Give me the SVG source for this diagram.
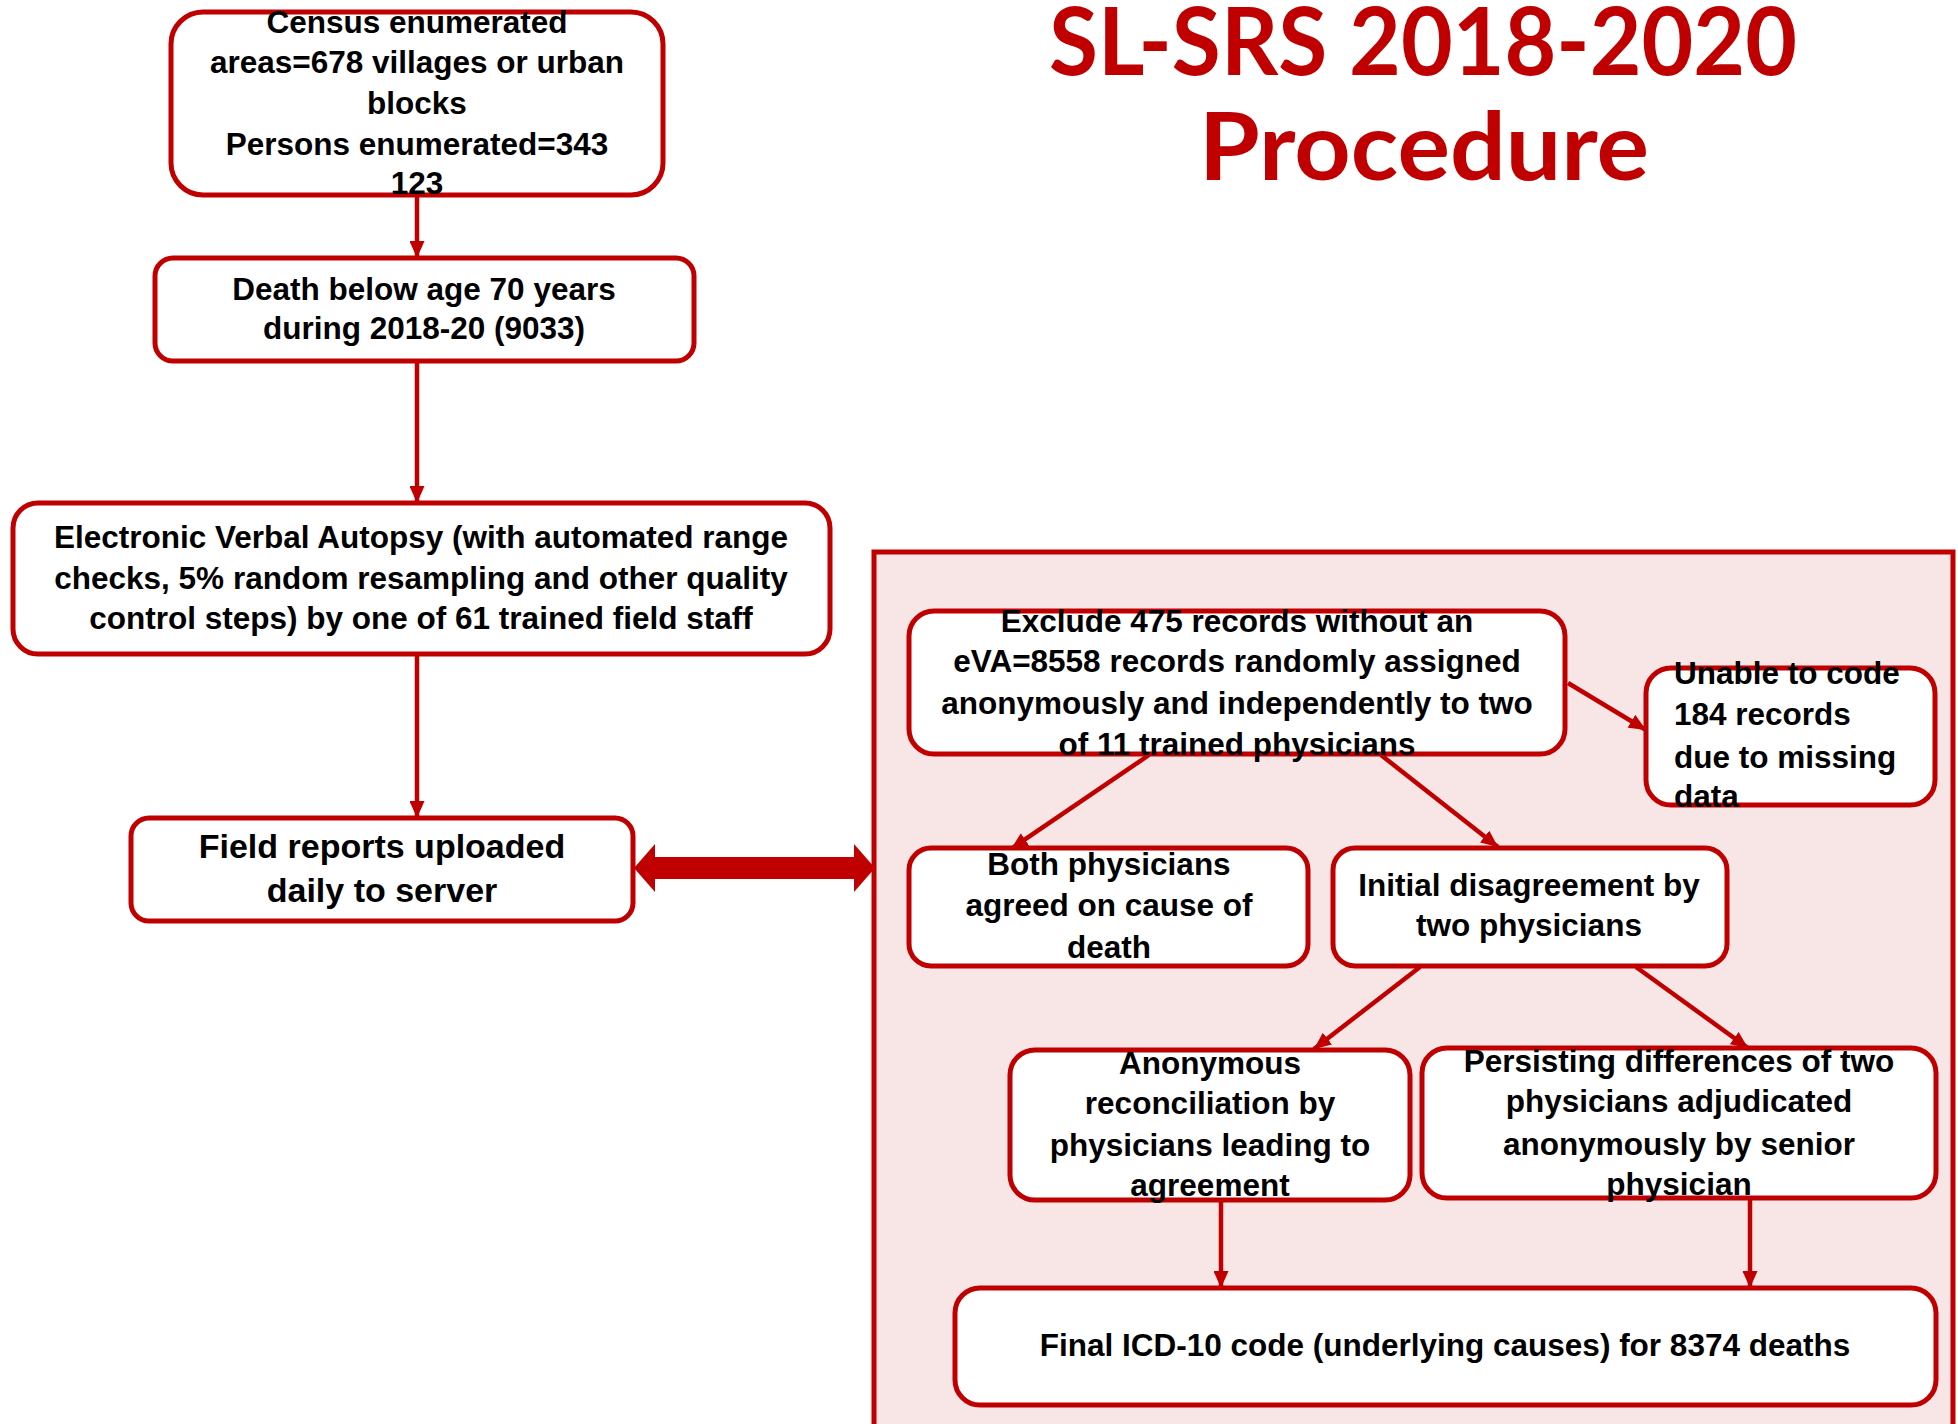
<svg xmlns="http://www.w3.org/2000/svg" width="1958" height="1424" viewBox="0 0 1958 1424">
<style>
.box{fill:#ffffff;stroke:#C00000;stroke-width:5}
.panel{fill:#F8E5E5;stroke:#C00000;stroke-width:5}
.t{font-family:"Liberation Sans",Arial,sans-serif;font-weight:bold;font-size:31.5px;fill:#000;text-anchor:middle}
.tl{text-anchor:start}
.big{font-size:34px}
.title{font-family:Lato,"Noto Sans",sans-serif;font-weight:bold;font-size:94px;fill:#C00000;text-anchor:middle}
.c{stroke:#C00000;stroke-width:4.5;fill:none;marker-end:url(#ah)}
</style>
<defs>
<marker id="ah" viewBox="0 0 17 15" refX="17" refY="7.5" markerWidth="17" markerHeight="15" markerUnits="userSpaceOnUse" orient="auto">
<path d="M0,0 L17,7.5 L0,15 z" fill="#C00000"/>
</marker>
</defs>
<g id="title">
<text class="title" x="1423" y="75" textLength="748" lengthAdjust="spacingAndGlyphs">SL-SRS 2018-2020</text>
<text class="title" x="1424" y="180" textLength="450" lengthAdjust="spacingAndGlyphs">Procedure</text>
</g>
<g id="panel"><rect class="panel" x="874" y="552" width="1079" height="900"/></g>
<g id="connectors">
<line class="c" x1="417" y1="197" x2="417" y2="258"/>
<line class="c" x1="417" y1="363" x2="417" y2="503"/>
<line class="c" x1="417" y1="656" x2="417" y2="818"/>
<line class="c" x1="1149" y1="755" x2="1011" y2="849"/>
<line class="c" x1="1381" y1="755" x2="1498" y2="847"/>
<line class="c" x1="1568" y1="683" x2="1646" y2="730"/>
<line class="c" x1="1420" y1="967" x2="1314" y2="1049"/>
<line class="c" x1="1636" y1="967" x2="1748" y2="1048"/>
<line class="c" x1="1221" y1="1201" x2="1221" y2="1288"/>
<line class="c" x1="1750" y1="1199" x2="1750" y2="1288"/>
<polygon points="634,868 655,844 655,857 854,857 854,844 875,868 854,892 854,879 655,879 655,892" fill="#C00000"/>
</g>
<g id="census">
<rect class="box" x="171" y="12" width="492" height="183" rx="32"/>
<text class="t" x="417" y="33">Census enumerated</text>
<text class="t" x="417" y="73">areas=678 villages or urban</text>
<text class="t" x="417" y="114">blocks</text>
<text class="t" x="417" y="155">Persons enumerated=343</text>
<text class="t" x="417" y="194">123</text>
</g>
<g id="death">
<rect class="box" x="155" y="258" width="539" height="103" rx="18"/>
<text class="t" x="424" y="300">Death below age 70 years</text>
<text class="t" x="424" y="339">during 2018-20 (9033)</text>
</g>
<g id="eva">
<rect class="box" x="13" y="503" width="817" height="151" rx="25"/>
<text class="t" x="421" y="548">Electronic Verbal Autopsy (with automated range</text>
<text class="t" x="421" y="589">checks, 5% random resampling and other quality</text>
<text class="t" x="421" y="629">control steps) by one of 61 trained field staff</text>
</g>
<g id="field">
<rect class="box" x="131" y="818" width="502" height="103" rx="18"/>
<text class="t big" x="382" y="858">Field reports uploaded</text>
<text class="t big" x="382" y="902">daily to server</text>
</g>
<g id="exclude">
<rect class="box" x="909" y="611" width="656" height="143" rx="25"/>
<text class="t" x="1237" y="632">Exclude 475 records without an</text>
<text class="t" x="1237" y="672">eVA=8558 records randomly assigned</text>
<text class="t" x="1237" y="714">anonymously and independently to two</text>
<text class="t" x="1237" y="755">of 11 trained physicians</text>
</g>
<g id="unable">
<rect class="box" x="1646" y="668" width="289" height="137" rx="25"/>
<text class="t tl" x="1674" y="684">Unable to code</text>
<text class="t tl" x="1674" y="725">184 records</text>
<text class="t tl" x="1674" y="768">due to missing</text>
<text class="t tl" x="1674" y="807">data</text>
</g>
<g id="both">
<rect class="box" x="909" y="848" width="399" height="118" rx="22"/>
<text class="t" x="1109" y="875">Both physicians</text>
<text class="t" x="1109" y="916">agreed on cause of</text>
<text class="t" x="1109" y="958">death</text>
</g>
<g id="initial">
<rect class="box" x="1333" y="848" width="394" height="118" rx="22"/>
<text class="t" x="1529" y="896">Initial disagreement by</text>
<text class="t" x="1529" y="936">two physicians</text>
</g>
<g id="anonymous">
<rect class="box" x="1010" y="1050" width="400" height="150" rx="25"/>
<text class="t" x="1210" y="1074">Anonymous</text>
<text class="t" x="1210" y="1114">reconciliation by</text>
<text class="t" x="1210" y="1156">physicians leading to</text>
<text class="t" x="1210" y="1196">agreement</text>
</g>
<g id="persisting">
<rect class="box" x="1422" y="1048" width="514" height="150" rx="25"/>
<text class="t" x="1679" y="1072">Persisting differences of two</text>
<text class="t" x="1679" y="1112">physicians adjudicated</text>
<text class="t" x="1679" y="1155">anonymously by senior</text>
<text class="t" x="1679" y="1195">physician</text>
</g>
<g id="final">
<rect class="box" x="955" y="1288" width="981" height="117" rx="25"/>
<text class="t" x="1445" y="1356">Final ICD-10 code (underlying causes) for 8374 deaths</text>
</g>
</svg>
